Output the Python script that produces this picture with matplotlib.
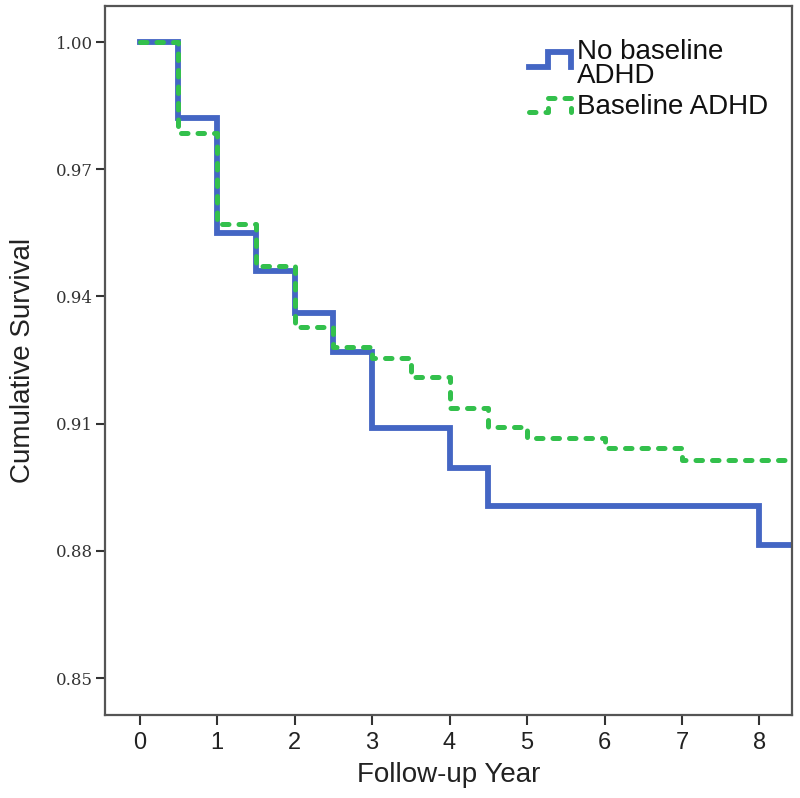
import matplotlib
matplotlib.use("Agg")
import matplotlib.pyplot as plt
from matplotlib.lines import Line2D
from matplotlib.legend_handler import HandlerBase

# ---------------------------
# Data
# ---------------------------
no_adhd_years = [0, 0.5, 1, 1.5, 2, 2.5, 3, 4, 4.5, 8, 8.45]
no_adhd_surv = [1.0, 0.982, 0.955, 0.946, 0.936, 0.927, 0.909, 0.8996, 0.8906, 0.8814, 0.8814]

adhd_years = [0, 0.5, 1, 1.5, 2, 2.5, 3, 3.5, 4, 4.5, 5, 6, 7, 8.45]
adhd_surv = [1.0, 0.9785, 0.957, 0.9473, 0.9329, 0.928, 0.9256, 0.9209, 0.9138, 0.9091,
             0.9067, 0.9043, 0.9015, 0.9015]

x_ticks = [0, 1, 2, 3, 4, 5, 6, 7, 8]
y_ticks = [0.85, 0.88, 0.91, 0.94, 0.97, 1.00]
labels = ["No baseline\nADHD", "Baseline ADHD"]

blue = "#4466c4"
green = "#33c04c"


# legend handle drawn as a small step, like the reference
class StepHandler(HandlerBase):
    def create_artists(self, legend, orig_handle, xdescent, ydescent,
                       width, height, fontsize, trans):
        shift = 0.25 * height if "\n" in orig_handle.get_label() else 0.0
        lo = -ydescent + 0.1 * height + shift
        hi = -ydescent + 0.85 * height + shift
        xs = [-xdescent, -xdescent + 0.45 * width, -xdescent + 0.45 * width,
              -xdescent + width, -xdescent + width]
        ys = [lo, lo, hi, hi, lo]
        line = Line2D(xs, ys)
        self.update_prop(line, orig_handle, legend)
        line.set_transform(trans)
        return [line]


fig = plt.figure(figsize=(8, 7.98), dpi=100)
ax = fig.add_axes([0.131, 0.104, 0.859, 0.8885])

ax.step(no_adhd_years, no_adhd_surv, where="post", color=blue, lw=4.2,
        solid_joinstyle="miter", label=labels[0])
ax.step(adhd_years, adhd_surv, where="post", color=green, lw=3.6,
        dashes=(1.3, 2.0), dash_capstyle="round", dash_joinstyle="round",
        label=labels[1])

ax.set_xlim(-0.45, 8.42)
ax.set_ylim(0.8413, 1.0085)
ax.set_xticks(x_ticks)
ax.set_yticks(y_ticks)
ax.set_yticklabels([f"{v:.2f}" for v in y_ticks], fontfamily="DejaVu Serif",
                   fontsize=12, color="#333333")
ax.set_xticklabels([str(v) for v in x_ticks], fontfamily="Liberation Sans",
                   fontsize=17, color="#222222")
ax.tick_params(axis="y", length=6.5, width=1.5, color="#333333", pad=2)
ax.tick_params(axis="x", length=7, width=1.5, color="#333333", pad=5)

for s in ax.spines.values():
    s.set_linewidth(1.6)
    s.set_color("#555555")

ax.set_xlabel("Follow-up Year", fontfamily="Liberation Sans", fontsize=20,
              color="#222222", labelpad=6)
ax.set_ylabel("Cumulative Survival", fontfamily="Liberation Sans", fontsize=20,
              color="#222222", labelpad=14)

leg = ax.legend(handler_map={Line2D: StepHandler()}, loc="upper left",
                bbox_to_anchor=(0.618, 0.954), frameon=False,
                prop={"family": "Liberation Sans", "size": 20},
                handlelength=1.5, handletextpad=0.2, borderpad=0,
                borderaxespad=0, labelspacing=0.2)
for t in leg.get_texts():
    t.set_linespacing(0.9)
    t.set_color("#111111")

plt.savefig("out.png", dpi=100)
